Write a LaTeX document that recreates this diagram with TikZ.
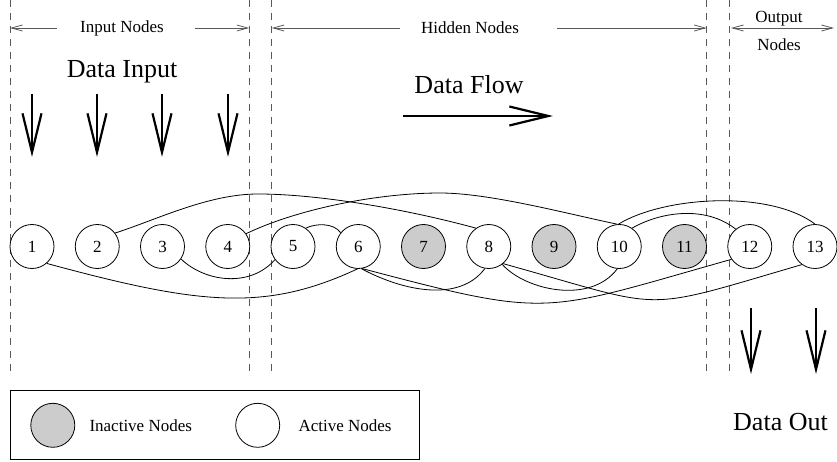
\documentclass[tikz,border=0pt]{standalone}
\usepackage{fontspec}
\setmainfont{Liberation Serif}
\usetikzlibrary{arrows.meta}
\definecolor{inactive}{gray}{0.8}
\definecolor{guide}{gray}{0.35}
\tikzset{
  net/.style={circle, draw, line width=0.8pt, minimum size=44pt, inner sep=0pt,
    font=\fontsize{17}{20}\selectfont},
  active/.style={net, fill=white},
  idle/.style={net, fill=inactive},
  link/.style={line width=0.8pt},
  divider/.style={guide, line width=0.9pt, dash pattern=on 7pt off 6pt},
  span/.style={guide, line width=0.8pt, -{Straight Barb[length=11pt,width=6pt]}},
  flow/.style={line width=2.2pt, -{Straight Barb[length=39pt,width=19pt]}},
  small/.style={font=\fontsize{17}{20}\selectfont},
  big/.style={font=\fontsize{26}{30}\selectfont, anchor=base},
}
\begin{document}
\begin{tikzpicture}[x=1pt,y=-1pt]
\useasboundingbox (0,0) rectangle (837,462);

% section dividers
\foreach \dx/\dy in {10/373, 249.3/373, 271.7/373, 706.7/375, 729/376}
  \draw[divider] (\dx,0) -- (\dx,\dy);

% section headings with span arrows
\node[small] (hin) at (122,28) {Input Nodes};
\coordinate (inl) at (10,28);
\coordinate (inr) at (249.3,28);
\draw[span] (hin.west) ++(-20,0) coordinate (inA) -- (inl);
\draw[span] (hin.east) ++(28,0) coordinate (inB) -- (inr);

\node[small] (hhid) at (470,28) {Hidden Nodes};
\coordinate (hidl) at (271.7,28);
\coordinate (hidr) at (706.7,28);
\draw[span] (hhid.west) ++(-18,0) coordinate (hidA) -- (hidl);
\draw[span] (hhid.east) ++(35,0) coordinate (hidB) -- (hidr);

\node[small] (hout) at (779,19) {Output};
\node[small] (hout2) at (779,45) {Nodes};
\coordinate (outl) at (731,28);
\coordinate (outr) at (834,28);
\draw[span, {Straight Barb[length=11pt,width=6pt]}-{Straight Barb[length=11pt,width=6pt]}] (outl) -- (outr);

% large captions
\node[big] (din) at (122,78) {Data Input};
\node[big] (dflow) at (469,94) {Data Flow};
\node[big] (dout) at (780.5,430) {Data Out};

% input arrows
\foreach \ax [count=\i] in {32,97,162,228} {
  \coordinate (ia\i) at (\ax,94);
  \coordinate (ib\i) at (\ax,157);
  \draw[flow] (ia\i) -- (ib\i);
}
% flow arrow
\coordinate (fa) at (403,116);
\coordinate (fb) at (553,116);
\draw[flow] (fa) -- (fb);
% output arrows
\foreach \ax [count=\i] in {751,816} {
  \coordinate (oa\i) at (\ax,308);
  \coordinate (ob\i) at (\ax,374);
  \draw[flow] (oa\i) -- (ob\i);
}

% network nodes
\foreach \i in {1,...,13} {
  \pgfmathsetmacro{\cx}{32+65.25*(\i-1)}
  \ifnum\i=7 \node[idle] (n\i) at (\cx,246.5) {\i};
  \else\ifnum\i=9 \node[idle] (n\i) at (\cx,246.5) {\i};
  \else\ifnum\i=11 \node[idle] (n\i) at (\cx,246.5) {\i};
  \else \node[active] (n\i) at (\cx,246.5) {\i};
  \fi\fi\fi
}

% connections
\draw[link] (n1.-49) .. controls (200,305) and (265,312) .. (n6.-92);
\draw[link] (n2.37) .. controls (156,220) and (208,194) .. (258,194)
                    .. controls (318,194) and (406,209) .. (n8.125);
\draw[link] (n3.-34) .. controls (205,282) and (250,288) .. (n5.-144);
\draw[link] (n4.35) .. controls (300,208) and (380,193) .. (440,193)
                    .. controls (490,193) and (568,214) .. (n10.95);
\draw[link] (n5.55) .. controls (316,223) and (334,223) .. (n6.142);
\draw[link] (n6.-82) .. controls (405,292) and (460,302) .. (n8.-100);
\draw[link] (n6.-80) .. controls (553,319) and (541,313) .. (n12.-145);
\draw[link] (n8.-53) .. controls (525,290) and (590,305) .. (n10.-95);
\draw[link] (n8.-50) .. controls (670,310) and (636,313) .. (n13.-126);
\draw[link] (n10.55) .. controls (660,212) and (705,205) .. (n12.129);
\draw[link] (n10.92) .. controls (665,196) and (770,190) .. (n13.90);

% legend
\node[draw, line width=0.8pt, minimum width=409pt, minimum height=69pt,
      inner sep=0pt] (legend) at (214.5,424.5) {};
\node[idle] (lgi) at (52.8,425.3) {};
\node[small, anchor=west] (lgit) at (86,425.3) {Inactive Nodes};
\node[active] (lga) at (257.7,425.3) {};
\node[small, anchor=west] (lgat) at (295,425.3) {Active Nodes};
\end{tikzpicture}
\end{document}
